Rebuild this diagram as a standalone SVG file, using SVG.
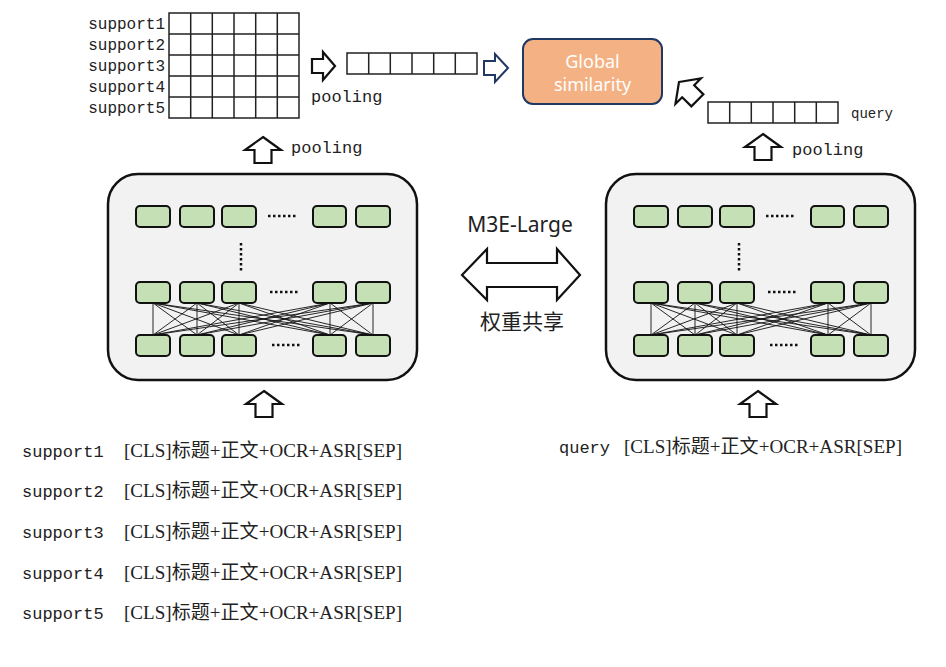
<svg xmlns="http://www.w3.org/2000/svg" xmlns:xlink="http://www.w3.org/1999/xlink" width="946" height="667" viewBox="0 0 946 667">
<defs>
<style>
.mono{font-family:"Liberation Mono","Noto Sans CJK SC",monospace;fill:#222}
.ser{font-family:"Liberation Serif","Noto Sans CJK SC",serif;fill:#222}
.cell{fill:#fff;stroke:#222;stroke-width:1.5}
.nd{fill:#C5E0B4;stroke:#111;stroke-width:2}
.blk{fill:#fff;stroke:#111;stroke-width:2.2;stroke-linejoin:miter}
.enc{fill:#F2F2F2;stroke:#111;stroke-width:2.5}
.ln{stroke:#111;stroke-width:0.9}
.dots{stroke:#111;stroke-width:2.5;stroke-dasharray:2.5 2.5}
</style>
<path id="up" d="M0,0 L18,13 L8.5,13 L8.5,26 L-8.5,26 L-8.5,13 L-18,13 Z"/>
<g id="net">
<rect class="enc" x="108" y="174" width="309" height="206" rx="30"/>
<g id="rowtop">
<rect class="nd" x="136" y="206" width="34" height="21" rx="4"/>
<rect class="nd" x="180" y="206" width="34" height="21" rx="4"/>
<rect class="nd" x="222" y="206" width="34" height="21" rx="4"/>
<rect class="nd" x="313" y="206" width="33" height="21" rx="4"/>
<rect class="nd" x="356" y="206" width="34" height="21" rx="4"/>
</g>
<line class="dots" x1="268" y1="216" x2="297" y2="216"/>
<line class="dots" x1="241" y1="243" x2="241" y2="272"/>
<g class="edges">
<path class="ln" d="M153,303L153,335M153,303L197,335M153,303L239,335M153,303L330,335M153,303L373,335
M197,303L153,335M197,303L197,335M197,303L239,335M197,303L330,335M197,303L373,335
M239,303L153,335M239,303L197,335M239,303L239,335M239,303L330,335M239,303L373,335
M330,303L153,335M330,303L197,335M330,303L239,335M330,303L330,335M330,303L373,335
M373,303L153,335M373,303L197,335M373,303L239,335M373,303L330,335M373,303L373,335"/>
</g>
<use xlink:href="#rowtop" y="76"/>
<use xlink:href="#rowtop" y="129"/>
<line class="dots" x1="270" y1="292" x2="299" y2="292"/>
<line class="dots" x1="272" y1="345" x2="301" y2="345"/>
</g>
</defs>
<rect width="946" height="667" fill="#fff"/>

<g id="support-matrix">
<g class="mono" font-size="16" text-anchor="end">
<text x="165" y="29">support1</text>
<text x="165" y="50">support2</text>
<text x="165" y="71">support3</text>
<text x="165" y="92">support4</text>
<text x="165" y="113">support5</text>
</g>
<g>
<rect class="cell" x="169" y="13" width="130" height="105"/>
<path class="cell" fill="none" d="M190.7,13V118M212.3,13V118M234,13V118M255.7,13V118M277.3,13V118M169,34H299M169,55H299M169,76H299M169,97H299"/>
</g>
</g>

<g id="support-vector">
<rect class="cell" x="347" y="53" width="130" height="21"/>
<path class="cell" d="M368.7,53V74M390.3,53V74M412,53V74M433.7,53V74M455.3,53V74"/>
<text class="mono" font-size="17" x="311" y="102">pooling</text>
</g>

<g id="global-similarity">
<rect x="523" y="39" width="139" height="65" rx="10" fill="#F4B183" stroke="#1F3864" stroke-width="2"/>
<text x="592.5" y="68" font-family="Noto Sans, 'Noto Sans CJK SC', sans-serif" font-size="18" fill="#fff" text-anchor="middle">Global</text>
<text x="592.5" y="91" font-family="Noto Sans, 'Noto Sans CJK SC', sans-serif" font-size="18" fill="#fff" text-anchor="middle">similarity</text>
</g>

<g id="query-vector">
<rect class="cell" x="708" y="102" width="130" height="21"/>
<path class="cell" d="M729.7,102V123M751.3,102V123M773,102V123M794.7,102V123M816.3,102V123"/>
<text class="mono" font-size="14" x="851" y="118">query</text>
<text class="mono" font-size="17" x="792" y="155">pooling</text>
</g>

<g id="encoder-left">
<use xlink:href="#net"/>
</g>
<g id="encoder-right">
<use xlink:href="#net" x="498"/>
</g>

<g id="shared">
<text x="520" y="232" font-family="Noto Sans, sans-serif" font-size="21" fill="#222" text-anchor="middle">M3E-Large</text>
<text x="522" y="329" font-family="'Noto Sans CJK SC', sans-serif" font-size="21" fill="#222" text-anchor="middle">权重共享</text>
</g>

<g id="connectors">
<path class="blk" d="M462,275 L487,249 L487,263 L557,263 L557,249 L580,275 L557,300 L557,287 L487,287 L487,300 Z"/>
<use xlink:href="#up" class="blk" x="263" y="137"/>
<text class="mono" font-size="17" x="291" y="153">pooling</text>
<use xlink:href="#up" class="blk" x="763" y="134"/>
<use xlink:href="#up" class="blk" x="264" y="391"/>
<use xlink:href="#up" class="blk" x="758" y="391"/>
<path class="blk" d="M335,66 L323,52 L323,59 L312,59 L312,73 L323,73 L323,80 Z"/>
<path d="M508,68 L495,54 L495,61 L484,61 L484,75 L495,75 L495,82 Z" fill="#fff" stroke="#1F3864" stroke-width="2"/>
<use xlink:href="#up" class="blk" transform="translate(679,82) rotate(-45)"/>
</g>

<g id="inputs" font-size="17">
<text class="mono" x="22" y="457">support1</text>
<text class="ser" font-size="19" x="124" y="457" textLength="278" lengthAdjust="spacingAndGlyphs">[CLS]标题+正文+OCR+ASR[SEP]</text>
<text class="mono" x="22" y="497">support2</text>
<text class="ser" font-size="19" x="124" y="497" textLength="278" lengthAdjust="spacingAndGlyphs">[CLS]标题+正文+OCR+ASR[SEP]</text>
<text class="mono" x="22" y="538">support3</text>
<text class="ser" font-size="19" x="124" y="538" textLength="278" lengthAdjust="spacingAndGlyphs">[CLS]标题+正文+OCR+ASR[SEP]</text>
<text class="mono" x="22" y="579">support4</text>
<text class="ser" font-size="19" x="124" y="579" textLength="278" lengthAdjust="spacingAndGlyphs">[CLS]标题+正文+OCR+ASR[SEP]</text>
<text class="mono" x="22" y="619">support5</text>
<text class="ser" font-size="19" x="124" y="619" textLength="278" lengthAdjust="spacingAndGlyphs">[CLS]标题+正文+OCR+ASR[SEP]</text>
<text class="mono" x="559" y="453">query</text>
<text class="ser" font-size="19" x="624" y="453" textLength="278" lengthAdjust="spacingAndGlyphs">[CLS]标题+正文+OCR+ASR[SEP]</text>
</g>
</svg>
